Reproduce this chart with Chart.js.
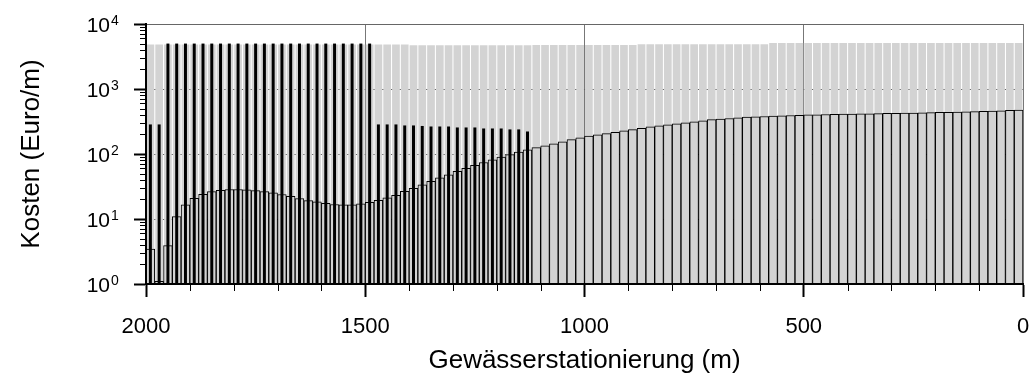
<!DOCTYPE html>
<html>
<head>
<meta charset="utf-8">
<script src="https://cdn.jsdelivr.net/npm/chart.js@4.4.1/dist/chart.umd.min.js"></script>
<style>
  html, body { margin: 0; padding: 0; background: #fff; }
  #wrap { width: 1033px; height: 378px; position: relative; }
</style>
</head>
<body>
<div id="wrap"><canvas id="chart"></canvas></div>
<script>
// Balkenmitten der 20-m-Abschnitte (m)
const stations = Array.from({ length: 100 }, (_, i) => 1990 - 20 * i);

// hellgraue Balken (obere Kosten)
const grayCosts = [
  4850, 4850, 4850, 4850, 4850, 4850, 4850, 4850, 4850, 4850,
  4850, 4850, 4850, 4850, 4850, 4850, 4850, 4850, 4850, 4850,
  4850, 4850, 4850, 4850, 4850, 4850, 4850, 4850, 4850, 4850,
  4700, 4700, 4700, 4700, 4700, 4700, 4700, 4700, 4700, 4700,
  4700, 4700, 4700, 4700, 4750, 4750, 4750, 4750, 4750, 4750,
  4750, 4750, 4750, 4750, 4750, 4750, 4860, 4860, 4860, 4860,
  4860, 4860, 4860, 4860, 4860, 4860, 4860, 4860, 4860, 4860,
  4860, 5100, 5100, 5100, 5100, 5100, 5100, 5100, 5100, 5100,
  5100, 5100, 5100, 5100, 5100, 5100, 5100, 5100, 5100, 5100,
  5100, 5100, 5100, 5100, 5100, 5100, 5100, 5100, 5100, 5100
];

// umrandete Balken (untere Kurve)
const lowerCosts = [
  3.46, 1.1, 3.9, 10.9, 16.5, 20.8, 24.0, 26.4, 27.7, 28.4,
  28.4, 28.1, 27.4, 26.4, 25.2, 23.8, 22.4, 20.6, 19.2, 18.3,
  17.4, 16.7, 16.5, 16.5, 17.1, 18.1, 19.4, 21.1, 23.2, 26.7,
  29.7, 33.5, 38.1, 43, 47.8, 54.3, 60.4, 67.2, 74, 81.3,
  89.3, 98, 106.6, 116, 125, 134, 144, 154, 166, 177,
  188, 198, 206, 215, 228, 237, 248, 262, 272, 282,
  292, 303, 313, 325, 337, 344, 352, 361, 369, 374,
  378, 382, 387, 391, 395, 399, 402, 405, 408, 410,
  412, 414, 416, 418, 421, 423, 426, 428, 431, 433,
  436, 439, 442, 445, 449, 453, 458, 463, 469, 476
];

// schmale schwarze Balken (nur 2000 m bis ca. 1120 m)
const blackCosts = [
  285, 285, 5000, 5000, 5000, 5000, 5000, 5000, 5000, 5000,
  5000, 5000, 5000, 5000, 5000, 5000, 5000, 5000, 5000, 5000,
  5000, 5000, 5000, 5000, 5000, 5000, 285, 285, 285, 275,
  275, 270, 265, 265, 265, 256, 256, 256, 247, 247,
  247, 239, 239, 222
];

const xTicks = [0, 500, 1000, 1500, 2000];
const xMinorTicks = [100, 200, 300, 400, 600, 700, 800, 900, 1100, 1200, 1300, 1400, 1600, 1700, 1800, 1900];
const yTicks = [1, 10, 100, 1000, 10000];
const yExponents = [0, 1, 2, 3, 4];

const FONT = '"Liberation Sans", Arial, sans-serif';

const toPoints = (vals) => vals.map((v, i) => ({ x: stations[i], y: v }));

// Nebenteilstriche und 10^n-Beschriftung
const axisExtras = {
  id: 'axisExtras',
  afterDraw(chart) {
    const { ctx, chartArea } = chart;
    const x = chart.scales.x;
    const y = chart.scales.y;
    ctx.save();
    ctx.strokeStyle = '#000';
    ctx.lineWidth = 1;
    for (let d = 1; d < 10000; d *= 10) {
      for (let k = 2; k < 10; k++) {
        const py = Math.round(y.getPixelForValue(d * k)) + 0.5;
        ctx.beginPath();
        ctx.moveTo(chartArea.left - 6, py);
        ctx.lineTo(chartArea.left, py);
        ctx.stroke();
      }
    }
    xMinorTicks.forEach(v => {
      const px = Math.round(x.getPixelForValue(v)) + 0.5;
      ctx.beginPath();
      ctx.moveTo(px, chartArea.bottom);
      ctx.lineTo(px, chartArea.bottom + 7);
      ctx.stroke();
    });

    ctx.fillStyle = '#000';
    ctx.textBaseline = 'alphabetic';
    yExponents.forEach(e => {
      const py = y.getPixelForValue(yTicks[e]);
      ctx.font = '21px ' + FONT;
      ctx.textAlign = 'right';
      ctx.fillText('10', chartArea.left - 36, py + 8);
      ctx.font = '14px ' + FONT;
      ctx.textAlign = 'left';
      ctx.fillText(String(e), chartArea.left - 35, py + 1);
    });
    ctx.restore();
  }
};

new Chart(document.getElementById('chart'), {
  type: 'bar',
  data: {
    datasets: [
      {
        data: toPoints(blackCosts),
        backgroundColor: '#000',
        barPercentage: 0.34,
        categoryPercentage: 1,
        grouped: false,
        order: 0
      },
      {
        data: toPoints(lowerCosts),
        backgroundColor: '#d3d3d3',
        borderColor: '#000',
        borderWidth: 1,
        barPercentage: 1,
        categoryPercentage: 1,
        grouped: false,
        order: 1
      },
      {
        data: toPoints(grayCosts),
        backgroundColor: '#d3d3d3',
        barPercentage: 0.88,
        categoryPercentage: 1,
        grouped: false,
        order: 2
      }
    ]
  },
  options: {
    responsive: true,
    maintainAspectRatio: false,
    devicePixelRatio: 1,
    animation: false,
    layout: { padding: { top: 24, right: 10, left: 0, bottom: 0 } },
    plugins: {
      legend: { display: false },
      tooltip: { enabled: false }
    },
    scales: {
      x: {
        type: 'linear',
        min: 0,
        max: 2000,
        reverse: true,
        offset: false,
        afterBuildTicks: s => { s.ticks = xTicks.map(v => ({ value: v })); },
        afterFit: s => { s.height = 94; },
        ticks: {
          callback: v => String(v),
          font: { family: FONT, size: 22 },
          color: '#000',
          padding: 17,
          maxRotation: 0
        },
        grid: { offset: false, color: '#777', lineWidth: 1, tickLength: 13, tickColor: '#000', tickWidth: 2 },
        border: { color: '#000', width: 2, z: 1 },
        title: {
          display: true,
          text: 'Gewässerstationierung (m)',
          font: { family: FONT, size: 26 },
          color: '#000',
          padding: { top: 0, bottom: 2 }
        }
      },
      y: {
        type: 'logarithmic',
        min: 1,
        max: 10000,
        afterBuildTicks: s => { s.ticks = yTicks.map(v => ({ value: v })); },
        afterFit: s => { s.width = 146; },
        ticks: { display: false },
        grid: { color: '#666', lineWidth: 1, tickLength: 12, tickColor: '#000', tickWidth: 2 },
        border: { color: '#000', width: 2, z: 1 },
        title: {
          display: true,
          text: 'Kosten (Euro/m)',
          font: { family: FONT, size: 26 },
          color: '#000',
          padding: { top: 16, bottom: 0 }
        }
      }
    }
  },
  plugins: [axisExtras]
});
</script>
</body>
</html>
